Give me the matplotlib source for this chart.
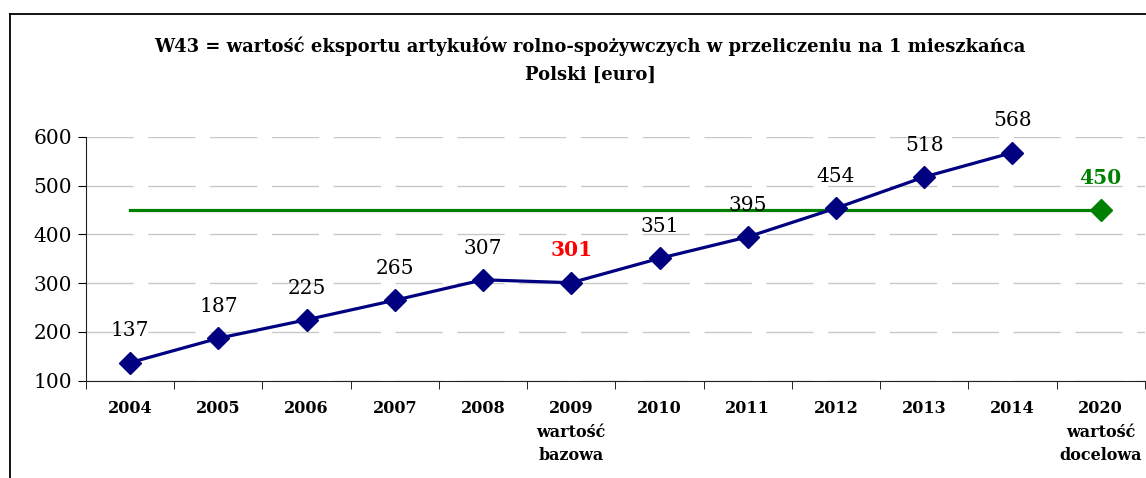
import matplotlib.pyplot as plt
from matplotlib.lines import Line2D

# ----------------------------
# Data
# ----------------------------
categories = ["2004", "2005", "2006", "2007", "2008", "2009\nwartość\nbazowa",
              "2010", "2011", "2012", "2013", "2014", "2020\nwartość\ndocelowa"]
export_values = [137, 187, 225, 265, 307, 301, 351, 395, 454, 518, 568]
target_value = 450
title = ("W43 = wartość eksportu artykułów rolno-spożywczych w przeliczeniu na 1 mieszkańca\n"
         "Polski [euro]")

plt.rcParams["font.family"] = ["DejaVu Serif"]

navy = "#000080"
green = "#008000"

fig = plt.figure(figsize=(11.46, 4.78), dpi=100)
ax = fig.add_axes([0.075, 0.2036, 0.924, 0.5098])

x_export = list(range(len(export_values)))
x_target = len(categories) - 1

# target line from first year to 2020, marker only at 2020
ax.plot([x_export[0], x_target], [target_value, target_value], color=green, lw=2.3, zorder=2)
ax.plot([x_target], [target_value], marker="D", ms=11, color=green, zorder=3)

ax.plot(x_export, export_values, color=navy, lw=2.3, marker="D", ms=11, zorder=4)

for x, v in zip(x_export, export_values):
    bold = categories[x].startswith("2009")
    ax.annotate(str(v), (x, v), xytext=(0, 16), textcoords="offset points",
                ha="center", va="bottom", fontsize=14.5,
                fontweight="bold" if bold else "normal",
                color="red" if bold else "black")
ax.annotate(str(target_value), (x_target, target_value), xytext=(0, 16),
            textcoords="offset points", ha="center", va="bottom",
            fontsize=14.5, fontweight="bold", color=green)

ax.set_xlim(-0.5, len(categories) - 0.5)
ax.set_ylim(100, 600)
ax.set_yticks([100, 200, 300, 400, 500, 600])
ax.tick_params(axis="y", labelsize=14.5, length=6, direction="out", pad=4)

ax.set_xticks(range(len(categories)))
ax.set_xticklabels(categories, fontsize=11.5, fontweight="bold", linespacing=1.5)
ax.set_xticks([i - 0.5 for i in range(len(categories) + 1)], minor=True)
ax.tick_params(axis="x", which="major", length=0, pad=14)
ax.tick_params(axis="x", which="minor", length=6, direction="out")

ax.yaxis.grid(True, color="#c8c8c8", lw=1, linestyle=(0, (34, 10.5)))
ax.set_axisbelow(True)
for s in ["top", "right"]:
    ax.spines[s].set_visible(False)
ax.spines["left"].set_color("#222222")
ax.spines["bottom"].set_color("#222222")

fig.text(0.515, 0.874, title, ha="center", va="center", fontsize=13,
         fontweight="bold", linespacing=1.65)

# outer chart frame (cut at the right and bottom)
fx = 10 / 1146
fy = 1 - 14 / 478
fig.add_artist(Line2D([fx, fx], [0, fy], color="black", lw=1.3))
fig.add_artist(Line2D([fx, 1], [fy, fy], color="black", lw=1.3))

fig.savefig("out.png", dpi=100)
